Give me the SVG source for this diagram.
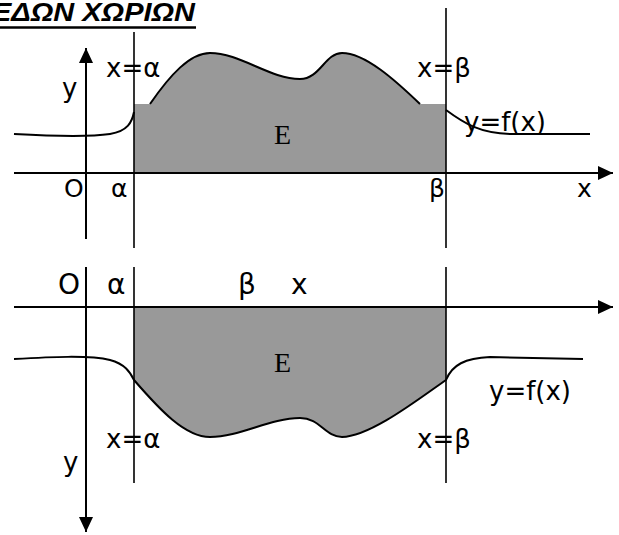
<svg xmlns="http://www.w3.org/2000/svg" width="619" height="535" viewBox="0 0 619 535">
<style>
.ax{stroke:#000;stroke-width:2;fill:none}
.vl{stroke:#000;stroke-width:1.6;fill:none}
.cv{stroke:#000;stroke-width:2;fill:none}
.fill{fill:#999999;stroke:none}
.lbl{font-family:"DejaVu Sans",Verdana,sans-serif;font-size:26px;fill:#000}
.lbs{font-family:"DejaVu Sans",Verdana,sans-serif;font-size:25px;fill:#000}
.lbl2{font-family:"DejaVu Sans",Verdana,sans-serif;font-size:28px;fill:#000}
.ser{font-family:"Liberation Serif","Times New Roman",serif;font-size:28px;fill:#000}
.title{font-family:"Liberation Sans",Arial,sans-serif;font-size:25px;font-weight:bold;font-style:italic;fill:#000}
</style>
<defs>
<marker id="arr" markerWidth="16" markerHeight="14" refX="15" refY="7" orient="auto" markerUnits="userSpaceOnUse">
<path d="M0,0 L15,7 L0,14 Z" fill="#000"/>
</marker>
</defs>
<rect width="619" height="535" fill="#fff"/>

<g id="title">
<text class="title" x="-8" y="21" textLength="203" lengthAdjust="spacingAndGlyphs">ΕΔΩΝ ΧΩΡΙΩΝ</text>
<line x1="0" y1="27.5" x2="196" y2="27.5" stroke="#000" stroke-width="2.5"/>
</g>

<g id="top-region">
<path class="fill" d="M134,173 L134,104 L150,104 C170,75 190,53 210,53 C240,53 270,79 300,79 C320,79 325,53 342,53 C365,53 395,80 420,104 L446,104 L446,173 Z"/>
<text class="ser" x="274" y="144">E</text>
</g>
<g id="bottom-region">
<path class="fill" d="M134,307 L134,380 C160,410 185,437 210,437 C240,437 270,418 300,418 C320,418 325,437 342,437 C370,437 420,398 446,380 L446,307 Z"/>
<text class="ser" x="274" y="372">E</text>
</g>

<g id="connectors">
<line class="ax" x1="86" y1="239" x2="86" y2="48" marker-end="url(#arr)"/>
<line class="ax" x1="14" y1="173" x2="613" y2="173" marker-end="url(#arr)"/>
<line class="vl" x1="134" y1="32" x2="134" y2="248"/>
<line class="vl" x1="446" y1="8" x2="446" y2="248"/>
<path class="cv" d="M14,134 C50,136 90,137 110,134 C128,131 132,122 134,112"/>
<path class="cv" d="M150,104 C170,75 190,53 210,53 C240,53 270,79 300,79 C320,79 325,53 342,53 C365,53 395,80 420,104"/>
<path class="cv" d="M446,110 C465,124 480,133 510,134 L590,134"/>
<line class="ax" x1="86" y1="267" x2="86" y2="532" marker-end="url(#arr)"/>
<line class="ax" x1="14" y1="307" x2="613" y2="307" marker-end="url(#arr)"/>
<line class="vl" x1="134" y1="267" x2="134" y2="483"/>
<line class="vl" x1="446" y1="267" x2="446" y2="483"/>
<path class="cv" d="M14,359 C50,357 90,355 110,360 C125,364 130,372 134,380 C160,410 185,437 210,437 C240,437 270,418 300,418 C320,418 325,437 342,437 C370,437 420,398 446,380 C452,365 465,358 490,357 L583,359"/>
</g>

<g id="labels-top">
<text class="lbl" x="62" y="97">y</text>
<text class="lbl" x="106" y="77">x=α</text>
<text class="lbl" x="417" y="77">x=β</text>
<text class="lbl" x="464" y="131">y=f(x)</text>
<text class="lbs" x="64" y="197">O</text>
<text class="lbs" x="111" y="197">α</text>
<text class="lbs" x="429" y="197">β</text>
<text class="lbs" x="577" y="197">x</text>
</g>
<g id="labels-bottom">
<text class="lbl2" x="58" y="294">O</text>
<text class="lbl2" x="107" y="294">α</text>
<text class="lbl2" x="238" y="294">β</text>
<text class="lbl2" x="291" y="294">x</text>
<text class="lbl" x="106" y="448">x=α</text>
<text class="lbl" x="417" y="448">x=β</text>
<text class="lbl" x="63" y="471">y</text>
<text class="lbl" x="489" y="400">y=f(x)</text>
</g>
</svg>
